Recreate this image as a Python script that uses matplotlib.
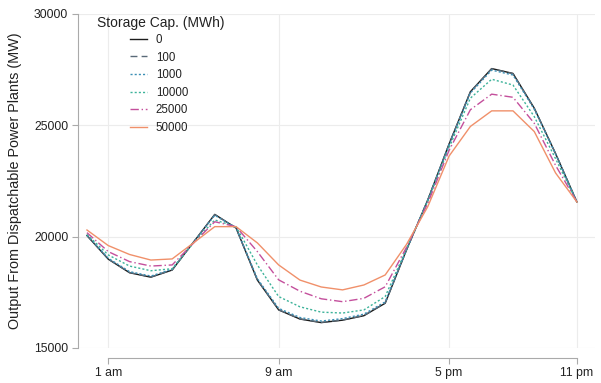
import matplotlib.pyplot as plt

plt.rcParams['font.family'] = ['Liberation Sans', 'DejaVu Sans']

hours = list(range(24))
tick_hours = [1, 9, 17, 23]
tick_labels = ['1 am', '9 am', '5 pm', '11 pm']

cap_0 = [20050, 18990, 18380, 18180, 18500, 19750, 21000, 20390, 18050, 16710, 16300, 16140,
         16250, 16450, 17010, 19400, 21650, 24160, 26510, 27550, 27330, 25770, 23730, 21560]
cap_100 = [20060, 19000, 18390, 18190, 18510, 19750, 20990, 20390, 18060, 16720, 16310, 16150,
           16260, 16460, 17020, 19400, 21650, 24150, 26500, 27540, 27320, 25760, 23730, 21560]
cap_1000 = [20070, 19030, 18430, 18230, 18540, 19750, 20960, 20400, 18110, 16780, 16370, 16210,
            16320, 16520, 17070, 19420, 21640, 24120, 26450, 27480, 27260, 25720, 23710, 21560]
cap_10000 = [20100, 19180, 18680, 18470, 18560, 19720, 20750, 20450, 18730, 17310, 16850, 16610,
             16570, 16710, 17310, 19450, 21600, 24000, 26220, 27070, 26810, 25390, 23500, 21560]
cap_25000 = [20180, 19330, 18880, 18680, 18730, 19710, 20670, 20450, 19330, 18060, 17550, 17210,
             17080, 17230, 17750, 19520, 21500, 23880, 25700, 26400, 26260, 25090, 23200, 21560]
cap_50000 = [20300, 19600, 19200, 18950, 19000, 19720, 20450, 20450, 19720, 18730, 18050, 17740,
             17610, 17830, 18280, 19650, 21350, 23620, 24950, 25650, 25650, 24720, 22860, 21560]

series = [('0', cap_0, '#1c1c1c', '-'),
          ('100', cap_100, '#5a6a78', (0, (5, 3))),
          ('1000', cap_1000, '#3b8fb5', (0, (1.5, 1.5))),
          ('10000', cap_10000, '#3db39a', (0, (1.5, 1.5))),
          ('25000', cap_25000, '#c44f9c', (0, (6, 2, 1, 2))),
          ('50000', cap_50000, '#f0906a', '-')]

W, H = 601, 383
fig = plt.figure(figsize=(W / 100, H / 100), dpi=100)
ax = fig.add_axes([78 / W, 35 / H, 517 / W, 334 / H])

for name, vals, col, ls in series:
    ax.plot(hours, vals, color=col, linestyle=ls, linewidth=1.0, label=name, clip_on=False)

ax.set_xlim(-0.42, 23.85)
ax.set_ylim(15000, 30000)
ax.set_xticks(tick_hours)
ax.set_xticklabels(tick_labels)
ax.set_yticks([15000, 20000, 25000, 30000])

ax.grid(True, color='#ececec', linewidth=0.8)
ax.set_axisbelow(True)
for s in ['top', 'right']:
    ax.spines[s].set_visible(False)
ax.spines['left'].set_color('#aaaaaa')
ax.spines['bottom'].set_color('#aaaaaa')
ax.spines['bottom'].set_position(('outward', 7))
ax.spines['bottom'].set_bounds(1, 23)
ax.tick_params(colors='#aaaaaa', labelcolor='#222222', labelsize=8.8, length=4, width=0.8, pad=3)

ax.set_ylabel('Output From Dispatchable Power Plants (MW)', fontsize=10.4, color='#222222', labelpad=9)

# legend title drawn separately so it sits left of the handles
fig.text(97 / W, 1 - 23 / H, 'Storage Cap. (MWh)', fontsize=10, color='#222222',
         ha='left', va='center')
leg = ax.legend(loc='upper left', bbox_to_anchor=(130 / W, 1 - 34 / H),
                bbox_transform=fig.transFigure, frameon=False, fontsize=8.3,
                handlelength=1.45, handletextpad=0.8, labelspacing=0.48,
                borderpad=0, borderaxespad=0)
for t in leg.get_texts():
    t.set_color('#222222')

fig.savefig('out.png', dpi=100)
